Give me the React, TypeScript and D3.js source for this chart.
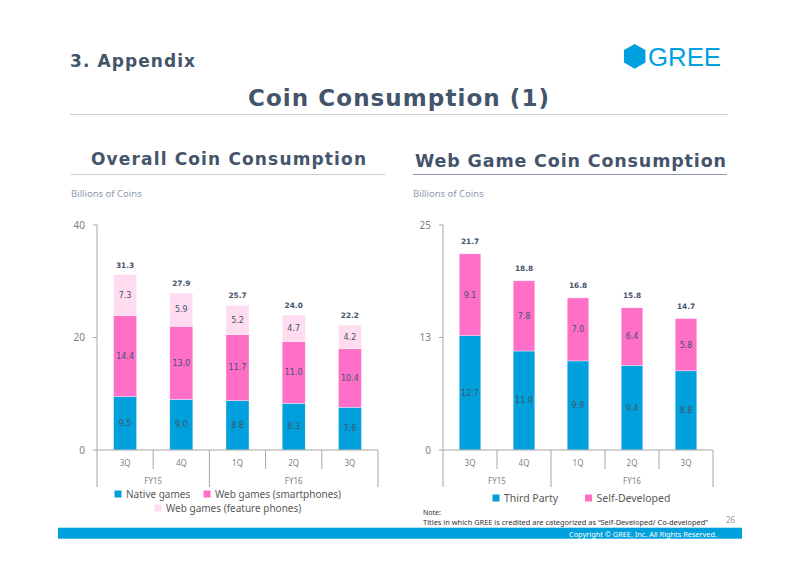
import React from "react";
import * as d3 from "d3";

const quarters = ["3Q", "4Q", "1Q", "2Q", "3Q"];
const fiscalYears = [
  { label: "FY15", from: 0, to: 2 },
  { label: "FY16", from: 2, to: 5 },
];

// Overall Coin Consumption (billions of coins)
const nativeGames = [9.5, 9.0, 8.8, 8.3, 7.6];
const webSmartphones = [14.4, 13.0, 11.7, 11.0, 10.4];
const webFeaturePhones = [7.3, 5.9, 5.2, 4.7, 4.2];
const overallTotals = [31.3, 27.9, 25.7, 24.0, 22.2];
const overallTicks = [0, 20, 40];
const overallTickLabels = ["0", "20", "40"];

// Web Game Coin Consumption (billions of coins)
const thirdParty = [12.7, 11.0, 9.9, 9.4, 8.8];
const selfDeveloped = [9.1, 7.8, 7.0, 6.4, 5.8];
const webTotals = [21.7, 18.8, 16.8, 15.8, 14.7];
const webTicks = [0, 12.5, 25];
const webTickLabels = ["0", "13", "25"];

const BLUE = "#00a0dc";
const PINK = "#ff6ec7";
const LIGHT_PINK = "#ffdcf0";
const SLATE = "#44546a";
const GRAY_TEXT = "#7f7f7f";
const AXIS = "#a6a6a6";
const SANS = "'Noto Sans', 'DejaVu Sans', sans-serif";
const VERD = "'DejaVu Sans', Verdana, sans-serif";

type Series = { name: string; values: number[]; color: string };

function StackChart(props: {
  x0: number;
  x1: number;
  yMax: number;
  ticks: number[];
  tickLabels: string[];
  series: Series[];
  totals: number[];
  padding: number;
  totalOffset: number;
}) {
  const { x0, x1, yMax, ticks, tickLabels, series, totals, padding, totalOffset } = props;
  const yBottom = 450;
  const yTop = 225;
  const y = d3.scaleLinear().domain([0, yMax]).range([yBottom, yTop]);
  const x = d3
    .scaleBand<number>()
    .domain(quarters.map((_, i) => i))
    .range([x0, x1])
    .paddingInner(padding)
    .paddingOuter(padding / 2);
  const step = x.step();
  const edge = (i: number) => x0 + i * step;

  const stack = d3
    .stack<number>()
    .keys(series.map((_, k) => String(k)))
    .value((i, key) => series[+key].values[i]);
  const stacked = stack(quarters.map((_, i) => i));

  return (
    <g>
      <line x1={x0} x2={x0} y1={yTop} y2={yBottom} stroke={AXIS} strokeWidth={1} />
      {ticks.map((t, i) => (
        <g key={i}>
          <line x1={x0 - 4} x2={x0} y1={y(t)} y2={y(t)} stroke={AXIS} strokeWidth={1} />
          <text
            x={x0 - 12}
            y={y(t)}
            dy="0.35em"
            textAnchor="end"
            fontFamily={SANS}
            fontSize={10}
            fill={GRAY_TEXT}
          >
            {tickLabels[i]}
          </text>
        </g>
      ))}
      {stacked.map((layer, k) =>
        layer.map((d, i) => {
          const top = y(d[1]);
          const bot = y(d[0]);
          return (
            <g key={`${k}-${i}`}>
              <rect
                x={x(i)}
                y={top}
                width={x.bandwidth()}
                height={bot - top}
                fill={series[k].color}
                stroke="#ffffff"
                strokeOpacity={0.6}
                strokeWidth={0.6}
              />
              <text
                x={(x(i) as number) + x.bandwidth() / 2}
                y={(top + bot) / 2}
                dy="0.35em"
                textAnchor="middle"
                fontFamily={VERD}
                fontSize={8}
                fill={SLATE}
              >
                {series[k].values[i].toFixed(1)}
              </text>
            </g>
          );
        })
      )}
      {totals.map((t, i) => {
        const top = y(d3.sum(series, (s) => s.values[i]));
        return (
          <text
            key={i}
            x={(x(i) as number) + x.bandwidth() / 2}
            y={top - totalOffset}
            textAnchor="middle"
            fontFamily={VERD}
            fontWeight="bold"
            fontSize={7.4}
            fill={SLATE}
          >
            {t.toFixed(1)}
          </text>
        );
      })}
      <line x1={x0} x2={x1} y1={yBottom} y2={yBottom} stroke={AXIS} strokeWidth={1} />
      {quarters.map((_, i) => {
        const isGroupEdge = fiscalYears.some((f) => f.from === i);
        return (
          <line
            key={`sep${i}`}
            x1={edge(i)}
            x2={edge(i)}
            y1={yBottom}
            y2={isGroupEdge ? 487 : 469}
            stroke={AXIS}
            strokeWidth={1}
          />
        );
      })}
      <line x1={x1} x2={x1} y1={yBottom} y2={487} stroke={AXIS} strokeWidth={1} />
      {quarters.map((q, i) => (
        <text
          key={`q${i}`}
          x={(x(i) as number) + x.bandwidth() / 2}
          y={463}
          dy="0.35em"
          textAnchor="middle"
          fontFamily={SANS}
          fontSize={8}
          fill={GRAY_TEXT}
        >
          {q}
        </text>
      ))}
      {fiscalYears.map((f) => (
        <text
          key={f.label}
          x={(edge(f.from) + edge(f.to)) / 2}
          y={481.5}
          dy="0.35em"
          textAnchor="middle"
          fontFamily={SANS}
          fontSize={8}
          fill={GRAY_TEXT}
        >
          {f.label}
        </text>
      ))}
    </g>
  );
}

function LegendItem(props: { x: number; y: number; color: string; label: string; size?: number }) {
  const { x, y, color, label, size = 10 } = props;
  return (
    <g>
      <rect x={x - 3.5} y={y - 3.5} width={7} height={7} fill={color} />
      <text x={x + 8} y={y} dy="0.35em" fontFamily={SANS} fontSize={size} fill="#595959">
        {label}
      </text>
    </g>
  );
}

export default function App() {
  const hex = d3.range(6).map((k) => {
    const a = (Math.PI / 3) * k - Math.PI / 2;
    return [634.7 + 12.4 * Math.cos(a), 56.3 + 12.4 * Math.sin(a)] as [number, number];
  });
  const hexPath = d3.line()(hex) + "Z";

  return (
    <svg
      width={800}
      height={565}
      style={{ position: "absolute", left: 0, top: 0, background: "#ffffff" }}
    >
      <rect x={0} y={0} width={800} height={565} fill="#ffffff" />
      <text
        x={70}
        y={66.5}
        fontFamily={VERD}
        fontWeight="bold"
        fontSize={17}
        fill={SLATE}
        textLength={125}
        lengthAdjust="spacing"
      >
        3. Appendix
      </text>
      <path d={hexPath} fill="#00a0e0" />
      <text
        x={648}
        y={65.5}
        fontFamily="'Liberation Sans', Arial, sans-serif"
        fontSize={26}
        fill="#00a0e0"
        textLength={73}
        lengthAdjust="spacingAndGlyphs"
      >
        GREE
      </text>
      <text
        x={248}
        y={106}
        fontFamily={VERD}
        fontWeight="bold"
        fontSize={23}
        fill={SLATE}
        textLength={301}
        lengthAdjust="spacing"
      >
        Coin Consumption (1)
      </text>
      <line x1={70} x2={728} y1={114.5} y2={114.5} stroke="#c8cdd5" strokeWidth={1} />

      <text
        x={91}
        y={165}
        fontFamily={VERD}
        fontWeight="bold"
        fontSize={17}
        fill={SLATE}
        textLength={275}
        lengthAdjust="spacing"
      >
        Overall Coin Consumption
      </text>
      <line x1={71} x2={385} y1={174.5} y2={174.5} stroke="#c8ccd4" strokeWidth={1} />
      <text
        x={415}
        y={166.5}
        fontFamily={VERD}
        fontWeight="bold"
        fontSize={17.5}
        fill={SLATE}
        textLength={311}
        lengthAdjust="spacing"
      >
        Web Game Coin Consumption
      </text>
      <line x1={413} x2={727} y1={174.5} y2={174.5} stroke="#8a96a6" strokeWidth={1} />

      <text x={71} y={196.5} fontFamily={SANS} fontSize={9.5} fill="#8e9aab">
        Billions of Coins
      </text>
      <text x={413} y={196.5} fontFamily={SANS} fontSize={9.5} fill="#8e9aab">
        Billions of Coins
      </text>

      <StackChart
        x0={97}
        x1={378}
        yMax={40}
        ticks={overallTicks}
        tickLabels={overallTickLabels}
        series={[
          { name: "Native games", values: nativeGames, color: BLUE },
          { name: "Web games (smartphones)", values: webSmartphones, color: PINK },
          { name: "Web games (feature phones)", values: webFeaturePhones, color: LIGHT_PINK },
        ]}
        totals={overallTotals}
        padding={0.59}
        totalOffset={7}
      />
      <StackChart
        x0={443}
        x1={713}
        yMax={25}
        ticks={webTicks}
        tickLabels={webTickLabels}
        series={[
          { name: "Third Party", values: thirdParty, color: BLUE },
          { name: "Self-Developed", values: selfDeveloped, color: PINK },
        ]}
        totals={webTotals}
        padding={0.6}
        totalOffset={10}
      />

      <LegendItem x={118} y={494} color={BLUE} label="Native games" />
      <LegendItem x={207} y={494} color={PINK} label="Web games (smartphones)" />
      <LegendItem x={158} y={508} color={LIGHT_PINK} label="Web games (feature phones)" />
      <LegendItem x={496} y={498} color={BLUE} label="Third Party" size={10.5} />
      <LegendItem x={588.5} y={498} color={PINK} label="Self-Developed" size={10.5} />

      <text x={423} y={515} fontFamily={SANS} fontSize={7} fill="#333333">
        Note:
      </text>
      <text
        x={423}
        y={524.5}
        fontFamily={SANS}
        fontSize={7}
        fill="#333333"
        textLength={285}
        lengthAdjust="spacingAndGlyphs"
      >
        Titles in which GREE is credited are categorized as “Self-Developed/ Co-developed”
      </text>
      <text x={726} y={523} fontFamily={SANS} fontSize={8} fill="#8c96a3">
        26
      </text>

      <rect x={58} y={527.7} width={684} height={11} fill="#00a0dc" />
      <text
        x={569}
        y={536.5}
        fontFamily={SANS}
        fontSize={7}
        fill="#ffffff"
        textLength={148}
        lengthAdjust="spacingAndGlyphs"
      >
        Copyright © GREE, Inc. All Rights Reserved.
      </text>
    </svg>
  );
}
